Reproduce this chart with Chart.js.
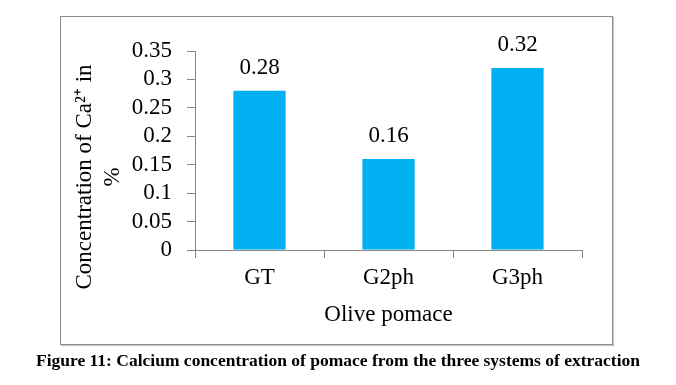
<!DOCTYPE html>
<html>
<head>
<meta charset="utf-8">
<script src="https://cdn.jsdelivr.net/npm/chart.js@4.4.1/dist/chart.umd.min.js"></script>
<style>
  html, body { margin:0; padding:0; background:#fff; }
  #wrap { position:relative; width:676px; height:385px; overflow:hidden; }
  #box { position:absolute; left:60px; top:16px; width:553px; height:329px; border:1px solid #8c8c8c; box-sizing:border-box; box-shadow:1px 1px 1px #c8c8c8; }
  #cap { position:absolute; left:0; width:676px; top:350px; text-align:center; font-family:"Liberation Serif", serif; font-weight:bold; font-size:17.5px; color:#000; white-space:nowrap; }
  canvas { position:absolute; left:0; top:0; }
</style>
</head>
<body>
<div id="wrap">
  <div id="box"></div>
  <canvas id="c" width="676" height="385"></canvas>
  <div id="cap">Figure 11: Calcium concentration of pomace from the three systems of extraction</div>
</div>
<script>
const categories = ["GT", "G2ph", "G3ph"];
const calciumValues = [0.28, 0.16, 0.32];
const yTickValues = [0, 0.05, 0.1, 0.15, 0.2, 0.25, 0.3, 0.35];
const yTitle = ["Concentration of Ca\u00B2\u207A in", "%"];
const xTitle = "Olive pomace";

const FONT = "'Liberation Serif', 'Times New Roman', serif";
const AXIS = "#868686";
const FS = 23;

const labelPlugin = {
  id: 'barLabels',
  afterDatasetsDraw(chart) {
    const ctx = chart.ctx;
    const meta = chart.getDatasetMeta(0);
    ctx.save();
    ctx.font = FS + "px " + FONT;
    ctx.fillStyle = "#000";
    ctx.textAlign = "center";
    ctx.textBaseline = "alphabetic";
    meta.data.forEach((bar, i) => {
      ctx.fillText(String(calciumValues[i]), bar.x, bar.y - 17);
    });
    ctx.restore();
  }
};

const yTitlePlugin = {
  id: 'yTitle',
  afterDraw(chart) {
    const ctx = chart.ctx;
    const ys = chart.scales.y;
    ctx.save();
    ctx.font = FS + "px " + FONT;
    ctx.fillStyle = "#000";
    ctx.textAlign = "center";
    ctx.textBaseline = "middle";
    ctx.translate(ys.left + 24, 177);
    ctx.rotate(-Math.PI / 2);
    yTitle.forEach((line, i) => ctx.fillText(line, 0, i * 28));
    ctx.restore();
  }
};

new Chart(document.getElementById('c'), {
  type: 'bar',
  data: {
    labels: categories,
    datasets: [{
      data: calciumValues,
      backgroundColor: '#00B0F0',
      borderWidth: 0,
      barPercentage: 0.5,
      categoryPercentage: 0.81
    }]
  },
  options: {
    responsive: false,
    animation: false,
    devicePixelRatio: 1,
    layout: { padding: { left: 61, right: 94, top: 51, bottom: 56 } },
    plugins: { legend: { display: false }, tooltip: { enabled: false } },
    scales: {
      x: {
        offset: true,
        grid: { drawOnChartArea: false, drawTicks: true, tickLength: 8, color: AXIS, offset: true },
        border: { color: AXIS, width: 1 },
        ticks: { color: '#000', font: { family: FONT, size: FS }, padding: 6 },
        title: { display: true, text: xTitle, color: '#000', font: { family: FONT, size: FS }, padding: { top: 0, bottom: 0 } },
        afterFit(s) { s.height = 79; }
      },
      y: {
        min: 0, max: 0.35,
        afterBuildTicks(s) { s.ticks = yTickValues.map(v => ({ value: v })); },
        grid: { drawOnChartArea: false, drawTicks: true, tickLength: 8, color: AXIS },
        border: { color: AXIS, width: 1 },
        ticks: { color: '#000', font: { family: FONT, size: FS }, padding: 15, autoSkip: false,
                 callback: (v) => String(Math.round(v * 100) / 100) },
        title: { display: false },
        afterFit(s) { s.width = 134; }
      }
    }
  },
  plugins: [labelPlugin, yTitlePlugin]
});
</script>
</body>
</html>
